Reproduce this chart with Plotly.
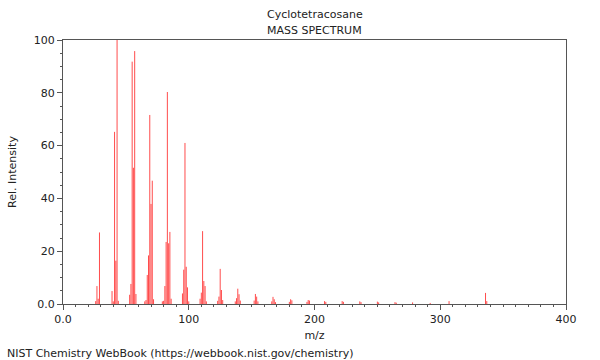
import plotly.graph_objects as go

# m/z values and relative intensities
mz = [26, 27, 28, 29, 39, 40, 41, 42, 43, 44,
      53, 54, 55, 56, 57, 58, 65, 66, 67, 68, 69, 70, 71, 72,
      79, 80, 81, 82, 83, 84, 85, 86, 95, 96, 97, 98, 99, 100,
      109, 110, 111, 112, 113, 114, 123, 124, 125, 126, 127,
      137, 138, 139, 140, 141, 152, 153, 154, 155,
      166, 167, 168, 169, 180, 181, 182, 194, 195, 196,
      208, 209, 222, 223, 236, 237, 250, 251, 264, 265, 278, 292, 307, 336, 337]
intensity = [1.1, 6.8, 2.0, 27.1, 4.9, 1.0, 65.2, 16.4, 100, 1.2,
             3.5, 7.6, 91.8, 51.6, 95.8, 3.8, 1.0, 1.5, 11.0, 18.4, 71.6, 37.9, 46.7, 1.8,
             1.0, 1.2, 6.8, 23.5, 80.3, 23.0, 27.3, 2.0, 4.0, 13.0, 61.0, 14.1, 6.3, 1.0,
             2.0, 4.3, 27.6, 8.7, 6.8, 1.0, 1.2, 2.8, 13.3, 5.3, 1.5,
             1.0, 2.2, 5.8, 3.7, 1.3, 1.3, 3.8, 2.8, 1.0,
             1.0, 2.7, 1.8, 0.7, 0.8, 1.8, 1.4, 0.8, 1.5, 1.3,
             1.1, 0.8, 1.1, 0.8, 1.0, 0.7, 0.9, 0.6, 0.7, 0.5, 0.6, 0.4, 1.1, 4.2, 1.1]

x_ticks = [0, 100, 200, 300, 400]
x_tick_text = ["0.0", "100", "200", "300", "400"]
y_ticks = [0, 20, 40, 60, 80, 100]
y_tick_text = ["0.0", "20", "40", "60", "80", "100"]

title_line1 = "Cyclotetracosane"
title_line2 = "MASS SPECTRUM"
x_title = "m/z"
y_title = "Rel. Intensity"
footer = "NIST Chemistry WebBook (https://webbook.nist.gov/chemistry)"

xs, ys = [], []
for m, v in zip(mz, intensity):
    xs += [m, m, None]
    ys += [0, v, None]

fig = go.Figure()
fig.add_trace(go.Scatter(x=xs, y=ys, mode="lines",
                         line=dict(color="rgba(255,0,0,0.7)", width=1),
                         hoverinfo="skip", showlegend=False))

font = dict(family="DejaVu Sans", size=11, color="#222")
axis_common = dict(showgrid=False, zeroline=False, showline=True, linecolor="#555",
                   linewidth=1, mirror=True, ticks="outside", ticklen=5,
                   tickcolor="#555", tickfont=font)

PT, PB, PL, PR = 40, 304, 61, 566


def py(p):
    return (PB - p) / (PB - PT)


def px(p):
    return (p - PL) / (PR - PL)


fig.update_layout(
    width=600, height=360,
    margin=dict(l=PL, r=600 - PR, t=PT, b=360 - PB),
    plot_bgcolor="white", paper_bgcolor="white",
    font=font,
    xaxis=dict(range=[0, 400], tickvals=x_ticks, ticktext=x_tick_text,
               minor=dict(dtick=10, ticks="outside", ticklen=2, tickcolor="#555"),
               title=dict(text=x_title, font=font, standoff=6), **axis_common),
    yaxis=dict(range=[0, 100], tickvals=y_ticks, ticktext=y_tick_text,
               minor=dict(dtick=5, ticks="outside", ticklen=2, tickcolor="#555"),
               title=dict(text=y_title, font=font, standoff=14), **axis_common),
    annotations=[
        dict(text=title_line1, xref="paper", yref="paper", x=px(314), y=py(14),
             xanchor="center", yanchor="middle", showarrow=False, font=font),
        dict(text=title_line2, xref="paper", yref="paper", x=px(314), y=py(30),
             xanchor="center", yanchor="middle", showarrow=False, font=font),
        dict(text=footer, xref="paper", yref="paper", x=px(3), y=py(353),
             xanchor="left", yanchor="middle", showarrow=False, font=font),
    ],
)
fig.write_html("out.html", config={"displayModeBar": False},
               post_script="document.body.style.margin='0';document.body.style.padding='0';")
